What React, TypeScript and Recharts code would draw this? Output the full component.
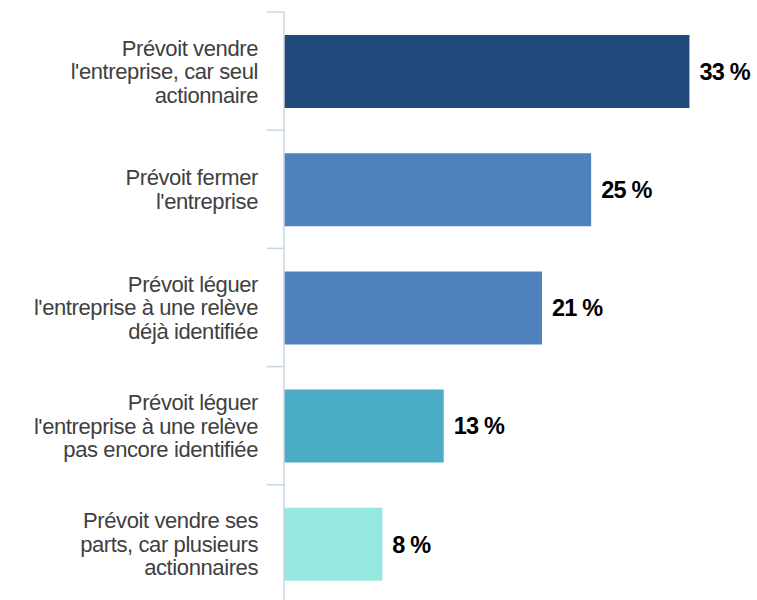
import { Bar, BarChart, Cell, LabelList, XAxis, YAxis } from "recharts";

const CATEGORIES = [
  "Prévoit vendre\nl'entreprise, car seul\nactionnaire",
  "Prévoit fermer\nl'entreprise",
  "Prévoit léguer\nl'entreprise à une relève\ndéjà identifiée",
  "Prévoit léguer\nl'entreprise à une relève\npas encore identifiée",
  "Prévoit vendre ses\nparts, car plusieurs\nactionnaires",
];
const VALUES = [33, 25, 21, 13, 8];
const COLORS = ["#22497C", "#4F81BD", "#4F81BD", "#4BACC6", "#95E8E0"];

const W = 757;
const H = 600;
const AXIS_W = 284;
const AXIS_COLOR = "#C8D5E3";
const FONT = "'Liberation Sans', Arial, sans-serif";

const rows = CATEGORIES.map((name, i) => ({ name, value: VALUES[i] }));

function CategoryTick(props: any) {
  const { y, payload, index } = props;
  const half = payload.offset ?? (H - 9) / CATEGORIES.length / 2;
  const lines = String(payload.value).split("\n");
  const lh = 23.5;
  const top = y - ((lines.length - 1) * lh) / 2;
  const last = index === CATEGORIES.length - 1;
  return (
    <g>
      <line x1={AXIS_W - 17} x2={AXIS_W} y1={y - half} y2={y - half} stroke={AXIS_COLOR} strokeWidth={1.5} />
      {last && (
        <line x1={AXIS_W - 17} x2={AXIS_W} y1={y + half} y2={y + half} stroke={AXIS_COLOR} strokeWidth={1.5} />
      )}
      <text textAnchor="end" fill="#404040" fontSize={22} fontFamily={FONT} letterSpacing={-0.4}>
        {lines.map((l, i) => (
          <tspan key={i} x={AXIS_W - 26} y={top + i * lh} dy="0.36em">
            {l}
          </tspan>
        ))}
      </text>
    </g>
  );
}

export default function App() {
  return (
    <div style={{ position: "absolute", left: 0, top: 0, background: "#fff" }}>
      <BarChart
        width={W}
        height={H}
        data={rows}
        layout="vertical"
        margin={{ top: 12, right: 43, bottom: -3, left: 0 }}
      >
        <XAxis type="number" domain={[0, 35]} hide />
        <YAxis
          type="category"
          dataKey="name"
          width={AXIS_W}
          axisLine={{ stroke: AXIS_COLOR, strokeWidth: 1.5 }}
          tickLine={false}
          tick={<CategoryTick />}
          interval={0}
        />
        <Bar dataKey="value" barSize={73} isAnimationActive={false}>
          {rows.map((_, i) => (
            <Cell key={i} fill={COLORS[i]} />
          ))}
          <LabelList
            dataKey="value"
            position="right"
            offset={10}
            formatter={(v: any) => `${v} %`}
            style={{ fill: "#000", fontWeight: 700, fontSize: 23.5, fontFamily: FONT, letterSpacing: -0.8 }}
          />
        </Bar>
      </BarChart>
    </div>
  );
}
